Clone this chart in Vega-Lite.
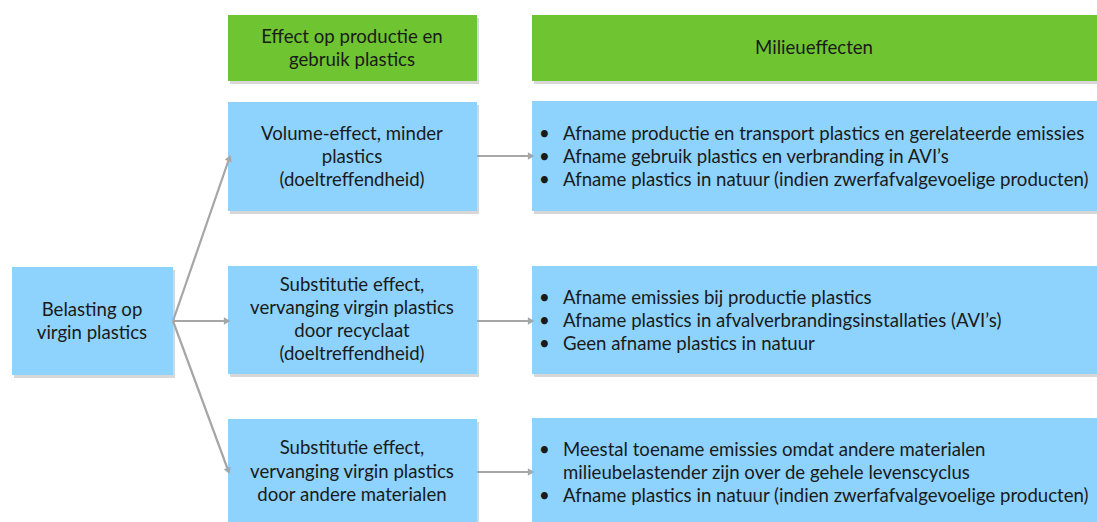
{
  "$schema": "https://vega.github.io/schema/vega-lite/v6.json",
  "width": 1097,
  "height": 522,
  "padding": 0,
  "autosize": "none",
  "background": "white",
  "config": {"view": {"stroke": null}},
  "datasets": {
    "boxes": [
      {"id": "left", "kind": "box", "x1": 12, "x2": 173, "y1": 267, "y2": 375},
      {"id": "h1", "kind": "header", "x1": 228, "x2": 477, "y1": 15, "y2": 81},
      {"id": "h2", "kind": "header", "x1": 532, "x2": 1097, "y1": 15, "y2": 81},
      {"id": "m1", "kind": "box", "x1": 228, "x2": 477, "y1": 102, "y2": 211},
      {"id": "m2", "kind": "box", "x1": 228, "x2": 477, "y1": 266, "y2": 374},
      {"id": "m3", "kind": "box", "x1": 228, "x2": 477, "y1": 419, "y2": 530},
      {"id": "r1", "kind": "box", "x1": 532, "x2": 1097, "y1": 101, "y2": 211},
      {"id": "r2", "kind": "box", "x1": 532, "x2": 1097, "y1": 266, "y2": 374},
      {"id": "r3", "kind": "box", "x1": 532, "x2": 1097, "y1": 418, "y2": 530}
    ],
    "links": [
      {"x1": 173, "y1": 321, "x2": 229, "y2": 159, "angle": 19},
      {"x1": 173, "y1": 321, "x2": 226, "y2": 321, "angle": 90},
      {"x1": 173, "y1": 321, "x2": 228, "y2": 470, "angle": 160},
      {"x1": 477, "y1": 156, "x2": 530, "y2": 156, "angle": 90},
      {"x1": 477, "y1": 321, "x2": 530, "y2": 321, "angle": 90},
      {"x1": 477, "y1": 472, "x2": 530, "y2": 472, "angle": 90}
    ],
    "labels": [
      {"align": "center", "x": 92, "y": 310, "t": "Belasting op"},
      {"align": "center", "x": 92, "y": 333, "t": "virgin plastics"},
      {"align": "center", "x": 352, "y": 37, "t": "Effect op productie en"},
      {"align": "center", "x": 352, "y": 60, "t": "gebruik plastics"},
      {"align": "center", "x": 814, "y": 48, "t": "Milieueffecten"},
      {"align": "center", "x": 352, "y": 134, "t": "Volume-effect, minder"},
      {"align": "center", "x": 352, "y": 157, "t": "plastics"},
      {"align": "center", "x": 352, "y": 180, "t": "(doeltreffendheid)"},
      {"align": "center", "x": 352, "y": 285, "t": "Substitutie effect,"},
      {"align": "center", "x": 352, "y": 308, "t": "vervanging virgin plastics"},
      {"align": "center", "x": 352, "y": 331, "t": "door recyclaat"},
      {"align": "center", "x": 352, "y": 354, "t": "(doeltreffendheid)"},
      {"align": "center", "x": 352, "y": 448, "t": "Substitutie effect,"},
      {"align": "center", "x": 352, "y": 472, "t": "vervanging virgin plastics"},
      {"align": "center", "x": 352, "y": 495, "t": "door andere materialen"},
      {"align": "left", "x": 539, "y": 134, "t": "•"},
      {"align": "left", "x": 563, "y": 134, "t": "Afname productie en transport plastics en gerelateerde emissies"},
      {"align": "left", "x": 539, "y": 157, "t": "•"},
      {"align": "left", "x": 563, "y": 157, "t": "Afname gebruik plastics en verbranding in AVI’s"},
      {"align": "left", "x": 539, "y": 180, "t": "•"},
      {"align": "left", "x": 563, "y": 180, "t": "Afname plastics in natuur (indien zwerfafvalgevoelige producten)"},
      {"align": "left", "x": 539, "y": 298, "t": "•"},
      {"align": "left", "x": 563, "y": 298, "t": "Afname emissies bij productie plastics"},
      {"align": "left", "x": 539, "y": 321, "t": "•"},
      {"align": "left", "x": 563, "y": 321, "t": "Afname plastics in afvalverbrandingsinstallaties (AVI’s)"},
      {"align": "left", "x": 539, "y": 344, "t": "•"},
      {"align": "left", "x": 563, "y": 344, "t": "Geen afname plastics in natuur"},
      {"align": "left", "x": 539, "y": 450, "t": "•"},
      {"align": "left", "x": 563, "y": 450, "t": "Meestal toename emissies omdat andere materialen"},
      {"align": "left", "x": 563, "y": 473, "t": "milieubelastender zijn over de gehele levenscyclus"},
      {"align": "left", "x": 539, "y": 496, "t": "•"},
      {"align": "left", "x": 563, "y": 496, "t": "Afname plastics in natuur (indien zwerfafvalgevoelige producten)"}
    ]
  },
  "layer": [
    {
      "data": {"name": "boxes"},
      "mark": {"type": "rect", "color": "#9a9a9a", "opacity": 0.4, "xOffset": 2, "yOffset": 3, "x2Offset": 2, "y2Offset": 3},
      "encoding": {
        "x": {"field": "x1", "type": "quantitative", "scale": {"domain": [0, 1097], "nice": false, "zero": false}, "axis": null},
        "x2": {"field": "x2"},
        "y": {"field": "y1", "type": "quantitative", "scale": {"domain": [0, 522], "nice": false, "zero": false, "reverse": true}, "axis": null},
        "y2": {"field": "y2"}
      }
    },
    {
      "data": {"name": "boxes"},
      "mark": {"type": "rect"},
      "encoding": {
        "x": {"field": "x1", "type": "quantitative"},
        "x2": {"field": "x2"},
        "y": {"field": "y1", "type": "quantitative"},
        "y2": {"field": "y2"},
        "color": {"field": "kind", "type": "nominal", "scale": {"domain": ["header", "box"], "range": ["#6EC431", "#8DD3FD"]}, "legend": null}
      }
    },
    {
      "data": {"name": "links"},
      "mark": {"type": "rule", "color": "#A6A6A6", "strokeWidth": 2.2},
      "encoding": {
        "x": {"field": "x1", "type": "quantitative"},
        "x2": {"field": "x2"},
        "y": {"field": "y1", "type": "quantitative"},
        "y2": {"field": "y2"}
      }
    },
    {
      "data": {"name": "links"},
      "mark": {"type": "point", "shape": "triangle", "filled": true, "color": "#A6A6A6", "size": 55, "opacity": 1},
      "encoding": {
        "x": {"field": "x2", "type": "quantitative"},
        "y": {"field": "y2", "type": "quantitative"},
        "angle": {"field": "angle", "type": "quantitative", "scale": null}
      }
    },
    {
      "data": {"name": "labels"},
      "transform": [{"filter": "datum.align == 'center'"}],
      "mark": {"type": "text", "align": "center", "baseline": "middle", "font": "Lato", "fontSize": 18.6, "color": "#1a1a1a"},
      "encoding": {
        "x": {"field": "x", "type": "quantitative"},
        "y": {"field": "y", "type": "quantitative"},
        "text": {"field": "t"}
      }
    },
    {
      "data": {"name": "labels"},
      "transform": [{"filter": "datum.align == 'left'"}],
      "mark": {"type": "text", "align": "left", "baseline": "middle", "font": "Lato", "fontSize": 18.6, "color": "#1a1a1a"},
      "encoding": {
        "x": {"field": "x", "type": "quantitative"},
        "y": {"field": "y", "type": "quantitative"},
        "text": {"field": "t"}
      }
    }
  ]
}
